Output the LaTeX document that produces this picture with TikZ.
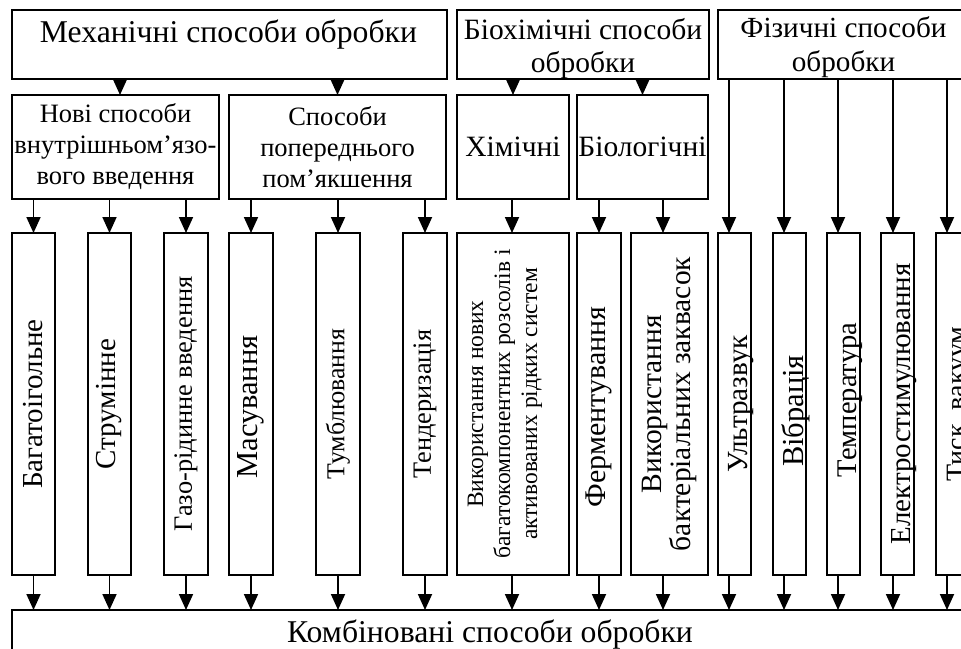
\documentclass[tikz,border=0pt]{standalone}
\usepackage{fontspec}
\setmainfont{Liberation Serif}
\usetikzlibrary{arrows.meta}
\begin{document}
\begin{tikzpicture}[x=1pt,y=-1pt,
  bx/.style={draw, line width=1.8pt, inner sep=0pt, outer sep=0pt, rectangle},
  tall/.style={bx, minimum height=342pt},
  rot/.style={rotate=90, inner sep=0pt, align=center},
  arr/.style={line width=1.8pt, -{Triangle[width=14pt,length=16pt]}},
  fT/.style={font=\fontsize{31.7}{34}\selectfont},
  fA/.style={font=\fontsize{29.5}{33}\selectfont},
  fB/.style={font=\fontsize{26.5}{31}\selectfont},
  fC/.style={font=\fontsize{29.5}{34}\selectfont},
]
\fill[white] (0,0) rectangle (961,648);
\useasboundingbox (0,0) rectangle (961,648);
\clip (0,0) rectangle (961,648);

% top row
\node[bx, minimum width=435pt, minimum height=69pt] (mech) at (229.5,44.5) {};
\node[fT, anchor=base, inner sep=0pt] (mecht) at (228.5,42.7) {Механічні способи обробки};
\node[bx, minimum width=252pt, minimum height=69pt] (bio) at (583,44.5) {};
\node[fA, align=center, inner sep=0pt] (biot) at (583,49) {Біохімічні способи\\обробки};
\node[bx, minimum width=251pt, minimum height=69pt] (fiz) at (843.5,44.5) {};
\node[font=\fontsize{29.2}{34}\selectfont, align=center, inner sep=0pt] (fizt) at (843.5,47) {Фізичні способи\\обробки};

% second row
\node[bx, fB, align=center, minimum width=207pt, minimum height=104pt] (nove) at (115.5,147) {Нові способи\\внутрішньом’язо-\\вого введення};
\node[bx, fB, align=center, minimum width=217pt, minimum height=104pt] (popm) at (337.5,147) {Способи\\попереднього\\пом’якшення};
\node[bx, fC, minimum width=112pt, minimum height=104pt] (khim) at (513,147) {Хімічні};
\node[bx, fC, minimum width=131pt, minimum height=104pt] (biol) at (642.5,147) {Біологічні};

% tall boxes
\node[tall, minimum width=43pt] (bag) at (33.5,404) {};
\node[tall, minimum width=43pt] (strum) at (109.5,404) {};
\node[tall, minimum width=44pt] (gaz) at (186,404) {};
\node[tall, minimum width=44pt] (mas) at (251,404) {};
\node[tall, minimum width=44pt] (tumb) at (338,404) {};
\node[tall, minimum width=44pt] (tend) at (425,404) {};
\node[tall, minimum width=112pt] (vyk) at (513,404) {};
\node[tall, minimum width=44pt] (ferm) at (599,404) {};
\node[tall, minimum width=77pt] (bakt) at (669.5,404) {};
\node[tall, minimum width=33pt] (ultra) at (734.5,404) {};
\node[tall, minimum width=33pt] (vib) at (789.5,404) {};
\node[tall, minimum width=33pt] (temp) at (843.5,404) {};
\node[tall, minimum width=33pt] (elek) at (897.5,404) {};
\node[tall, minimum width=33pt] (tysk) at (952.5,404) {};

% rotated texts
\node[rot, font=\fontsize{29}{34}\selectfont] (bagt) at (bag.center) {Багатоігольне};
\node[rot, font=\fontsize{29}{34}\selectfont] (strumt) at (strum.center) {Струмінне};
\node[rot, font=\fontsize{26.4}{34}\selectfont] (gazt) at (gaz.center) {Газо-рідинне введення};
\node[rot, font=\fontsize{30.5}{34}\selectfont] (mast) at ([yshift=-3pt]mas.center) {Масування};
\node[rot, font=\fontsize{25.8}{34}\selectfont] (tumbt) at (tumb.center) {Тумблювання};
\node[rot, font=\fontsize{26.3}{34}\selectfont] (tendt) at (tend.center) {Тендеризація};
\node[rot, font=\fontsize{23.5}{27}\selectfont] (vykt) at ([xshift=-8pt]vyk.center) {Використання нових\\багатокомпонентних розсолів і\\активованих рідких систем};
\node[rot, font=\fontsize{30}{34}\selectfont] (fermt) at ([yshift=-3pt]ferm.center) {Ферментування};
\node[rot, font=\fontsize{29.5}{29}\selectfont] (baktt) at (bakt.center) {Використання\\бактеріальних заквасок};
\node[rot, font=\fontsize{29.2}{34}\selectfont] (ultrat) at ([xshift=6.5pt]ultra.center) {Ультразвук};
\node[rot, font=\fontsize{30.5}{34}\selectfont] (vibt) at ([xshift=6.5pt,yshift=-7pt]vib.center) {Вібрація};
\node[rot, font=\fontsize{28.5}{34}\selectfont] (tempt) at ([xshift=6.5pt,yshift=4pt]temp.center) {Температура};
\node[rot, font=\fontsize{29}{34}\selectfont] (elekt) at ([xshift=6.5pt]elek.center) {Електростимулювання};
\node[rot, font=\fontsize{28}{34}\selectfont] (tyskt) at ([xshift=6.5pt]tysk.center) {Тиск, вакуум};

% bottom box
\node[bx, minimum width=963pt, minimum height=80pt] (komb) at (493.5,650) {};
\node[fT, anchor=base, inner sep=0pt] (kombt) at (490,642) {Комбіновані способи обробки};

% arrows from top row
\coordinate (t-nove) at ([xshift=4.5pt]nove.north);
\draw[arr] (t-nove |- mech.south) -- (t-nove);
\draw[arr] (popm.north |- mech.south) -- (popm.north);
\draw[arr] (khim.north |- bio.south) -- (khim.north);
\draw[arr] (biol.north |- bio.south) -- (biol.north);

% arrows to and from tall boxes
\foreach \n/\s/\p in {bag/0/nove, strum/0/nove, gaz/0/nove, mas/0/popm, tumb/0/popm, tend/0/popm, vyk/-1/khim, ferm/0/biol, bakt/-6.5/biol, ultra/-5.5/fiz, vib/-5.5/fiz, temp/-5.5/fiz, elek/-4.5/fiz, tysk/-5.5/fiz}{
  \coordinate (t-\n) at ([xshift=\s pt]\n.north);
  \coordinate (b-\n) at ([xshift=\s pt]\n.south);
  \draw[arr] (t-\n |- \p.south) -- (t-\n);
  \draw[arr] (b-\n) -- (b-\n |- komb.north);
}
\end{tikzpicture}
\end{document}
